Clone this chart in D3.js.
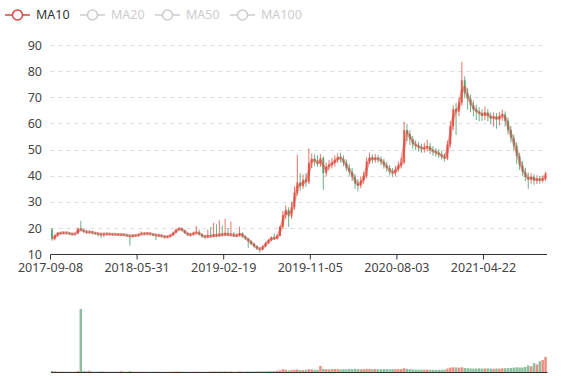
<!DOCTYPE html>
<html><head><meta charset="utf-8">
<script src="https://cdn.jsdelivr.net/npm/d3@7"></script>
<style>body{margin:0;background:#fff}svg{display:block;font-family:"Noto Sans",sans-serif}</style>
</head><body><svg id="c" width="577" height="380"></svg>
<script>
// Each candle aggregates ~6 trading sessions.
const dates = [
"2017-09-08","2017-09-15","2017-09-22","2017-09-28","2017-10-13","2017-10-23","2017-10-31","2017-11-08","2017-11-16","2017-11-24",
"2017-12-04","2017-12-12","2017-12-20","2017-12-28","2018-01-08","2018-01-16","2018-01-24","2018-02-01","2018-02-09","2018-02-23",
"2018-03-05","2018-03-13","2018-03-21","2018-03-29","2018-04-09","2018-04-17","2018-04-25","2018-05-07","2018-05-15","2018-05-23",
"2018-05-31","2018-06-08","2018-06-19","2018-06-27","2018-07-05","2018-07-13","2018-07-23","2018-07-31","2018-08-08","2018-08-16",
"2018-08-24","2018-09-03","2018-09-11","2018-09-19","2018-09-28","2018-10-15","2018-10-23","2018-10-31","2018-11-08","2018-11-16",
"2018-11-26","2018-12-04","2018-12-12","2018-12-20","2018-12-28","2019-01-09","2019-01-17","2019-01-25","2019-02-01","2019-02-13",
"2019-02-19","2019-02-27","2019-03-07","2019-03-15","2019-03-25","2019-04-02","2019-04-11","2019-04-19","2019-04-29","2019-05-10",
"2019-05-20","2019-05-28","2019-06-05","2019-06-14","2019-06-24","2019-07-02","2019-07-10","2019-07-18","2019-07-26","2019-08-05",
"2019-08-13","2019-08-21","2019-08-29","2019-09-06","2019-09-17","2019-09-25","2019-10-09","2019-10-17","2019-10-25","2019-10-31",
"2019-11-05","2019-11-13","2019-11-21","2019-11-29","2019-12-09","2019-12-17","2019-12-25","2020-01-03","2020-01-13","2020-01-21",
"2020-02-05","2020-02-13","2020-02-21","2020-03-02","2020-03-10","2020-03-18","2020-03-26","2020-04-03","2020-04-14","2020-04-22",
"2020-04-30","2020-05-12","2020-05-20","2020-05-28","2020-06-05","2020-06-15","2020-06-23","2020-07-03","2020-07-13","2020-07-21",
"2020-08-03","2020-08-11","2020-08-19","2020-08-27","2020-09-04","2020-09-14","2020-09-22","2020-09-30","2020-10-16","2020-10-26",
"2020-11-03","2020-11-11","2020-11-19","2020-11-27","2020-12-07","2020-12-15","2020-12-23","2020-12-31","2021-01-11","2021-01-19",
"2021-01-27","2021-02-04","2021-02-18","2021-02-26","2021-03-08","2021-03-16","2021-03-24","2021-04-01","2021-04-09","2021-04-19",
"2021-04-22","2021-04-30","2021-05-12","2021-05-20","2021-05-28","2021-06-07","2021-06-16","2021-06-24","2021-07-02","2021-07-12",
"2021-07-20","2021-07-28","2021-08-05","2021-08-13","2021-08-23","2021-08-31","2021-09-08","2021-09-16","2021-09-27","2021-10-12",
"2021-10-20","2021-10-28"];

const openValues = [
19.5,16.0,17.2,18.2,18.0,18.3,18.1,17.9,17.6,17.9,
19.8,19.2,18.7,18.4,18.6,18.2,18.0,17.8,17.6,17.9,
17.7,17.8,17.6,17.7,17.5,17.6,17.4,17.2,16.8,17.3,
17.1,17.6,18.0,17.8,18.1,17.7,17.5,17.2,17.3,16.9,
16.6,16.8,17.3,18.3,19.4,19.9,19.2,18.1,17.4,17.6,
18.1,18.4,17.6,16.9,16.6,17.2,16.8,17.5,17.0,17.8,
17.3,18.0,17.4,17.6,17.0,17.2,18.0,16.8,16.0,15.0,
14.0,13.0,12.2,11.8,13.0,14.3,15.4,16.4,15.9,17.0,
20.5,25.0,27.0,24.5,28.0,33.5,37.5,36.0,38.5,37.6,
45.0,46.5,45.5,44.6,46.8,41.0,43.5,44.2,45.0,46.0,
47.2,46.5,45.0,43.0,41.5,39.5,37.0,36.3,38.2,40.0,
45.5,47.0,46.2,46.8,46.3,45.5,44.0,43.0,41.5,41.0,
42.5,44.0,45.0,57.5,56.0,54.0,52.0,51.5,51.0,50.3,
50.8,51.2,49.8,49.3,48.8,48.2,47.4,46.6,52.0,59.0,
65.5,64.5,68.0,76.5,71.5,69.5,67.0,65.3,64.5,63.8,
63.0,64.2,62.8,62.0,62.6,61.5,62.8,63.5,61.0,57.5,
54.5,51.5,47.5,44.0,41.5,39.5,38.6,39.5,38.2,38.8,
38.3,38.9];

const closeValues = [
16.0,17.2,18.2,18.0,18.3,18.1,17.9,17.6,17.9,19.8,
19.2,18.7,18.4,18.6,18.2,18.0,17.8,17.6,17.9,17.7,
17.8,17.6,17.7,17.5,17.6,17.4,17.2,16.8,17.3,17.1,
17.6,18.0,17.8,18.1,17.7,17.5,17.2,17.3,16.9,16.6,
16.8,17.3,18.3,19.4,19.9,19.2,18.1,17.4,17.6,18.1,
18.4,17.6,16.9,16.6,17.2,16.8,17.5,17.0,17.8,17.3,
18.0,17.4,17.6,17.0,17.2,18.0,16.8,16.0,15.0,14.0,
13.0,12.2,11.8,13.0,14.3,15.4,16.4,15.9,17.0,20.5,
25.0,27.0,24.5,28.0,33.5,37.5,36.0,38.5,37.6,45.0,
46.5,45.5,44.6,46.8,41.0,43.5,44.2,45.0,46.0,47.2,
46.5,45.0,43.0,41.5,39.5,37.0,36.3,38.2,40.0,45.5,
47.0,46.2,46.8,46.3,45.5,44.0,43.0,41.5,41.0,42.5,
44.0,45.0,57.5,56.0,54.0,52.0,51.5,51.0,50.3,50.8,
51.2,49.8,49.3,48.8,48.2,47.4,46.6,52.0,59.0,65.5,
64.5,68.0,76.5,71.5,69.5,67.0,65.3,64.5,63.8,63.0,
64.2,62.8,62.0,62.6,61.5,62.8,63.5,61.0,57.5,54.5,
51.5,47.5,44.0,41.5,39.5,38.6,39.5,38.2,38.8,38.3,
38.9,41.0];

const highValues = [
20.0,17.6,18.5,18.6,18.7,18.6,18.4,18.1,18.2,20.2,
22.8,19.6,19.2,19.0,18.9,18.5,18.3,18.1,18.2,18.3,
18.1,18.0,18.0,17.9,17.9,17.8,17.6,17.4,17.6,17.5,
17.9,18.7,18.4,18.5,18.3,18.0,17.8,17.7,17.5,17.2,
17.1,17.6,18.6,19.8,20.3,20.1,19.4,18.3,18.0,18.6,
20.8,19.5,17.9,17.4,19.5,20.5,22.0,21.5,23.0,21.0,
23.5,20.0,22.5,18.5,18.0,20.6,18.4,17.2,16.3,15.4,
14.4,13.4,12.6,13.4,14.8,15.9,16.9,18.0,17.5,21.0,
26.5,28.6,28.0,30.0,36.0,48.0,41.0,40.5,41.0,50.5,
48.5,48.2,47.8,48.3,47.5,45.0,46.0,46.8,47.8,48.6,
48.8,47.8,46.3,44.5,43.0,40.8,38.8,39.8,41.5,47.0,
48.8,48.2,48.3,48.0,47.5,46.6,45.3,44.2,43.0,43.8,
45.5,46.8,60.7,59.8,57.5,55.3,53.6,53.0,52.3,52.5,
53.8,52.5,51.4,50.6,50.2,49.6,48.5,53.5,61.0,67.0,
67.8,69.8,83.6,78.0,73.5,71.0,68.8,67.2,66.2,65.4,
66.5,65.6,64.3,64.2,64.0,64.4,65.3,64.6,62.3,59.0,
55.8,52.8,48.8,45.6,43.0,41.2,41.0,40.6,40.2,40.0,
40.2,41.6];

const lowValues = [
15.2,15.3,16.8,17.6,17.8,17.8,17.5,17.2,17.3,17.8,
18.9,18.3,17.9,18.0,17.6,17.5,16.8,16.2,16.5,17.2,
17.3,17.2,17.3,17.1,17.2,17.0,16.8,13.3,16.5,16.8,
16.9,17.4,17.3,17.6,17.3,17.0,15.5,16.6,16.4,16.0,
16.2,16.5,17.1,18.1,19.1,18.8,17.8,17.1,16.8,17.3,
17.8,17.2,16.4,16.0,16.2,16.3,16.4,16.5,16.6,16.8,
16.9,16.8,16.9,16.5,16.6,16.8,16.3,15.5,12.4,13.6,
12.6,11.7,10.6,11.5,12.8,14.0,15.0,15.5,15.6,16.8,
19.8,23.6,20.5,23.5,27.0,32.5,34.2,35.0,35.8,36.8,
43.0,43.8,43.5,43.4,34.6,39.8,42.0,42.8,43.6,44.8,
45.0,43.6,41.8,40.0,38.0,35.0,34.0,35.2,37.0,39.0,
44.5,44.8,45.0,45.0,44.0,42.7,41.5,40.2,39.5,40.0,
41.5,42.8,44.5,53.2,51.8,50.3,49.8,49.3,48.8,48.9,
49.3,48.3,47.7,47.3,46.8,46.2,45.5,46.0,50.8,57.6,
55.6,62.8,66.8,69.6,65.3,64.2,62.8,61.3,60.8,61.0,
61.2,60.8,59.6,58.8,58.0,59.2,61.0,58.8,55.8,52.8,
49.5,44.5,42.3,40.0,38.0,35.0,37.0,36.6,36.9,37.0,
37.4,38.0];

const volumeValues = [
1.5,1.2,0.8,0.6,0.6,0.5,0.5,0.5,0.6,1.5,
100,1.5,1.0,2.0,0.8,0.6,0.8,1.0,0.8,0.6,
0.6,0.5,0.5,0.6,1.2,0.6,0.6,1.5,0.8,0.6,
0.5,0.6,0.5,0.5,0.4,0.5,0.6,0.5,0.4,0.4,
0.4,0.5,0.6,0.8,0.8,0.6,0.5,0.4,0.4,0.5,
0.6,0.5,0.4,0.4,0.6,0.8,1.0,0.8,1.0,0.8,
1.0,0.8,1.0,0.6,0.6,1.2,0.8,0.7,1.0,0.8,
0.8,0.9,1.2,1.0,1.0,1.2,1.2,1.5,2.0,2.5,
4.5,3.5,2.5,3.0,3.5,4.0,3.0,3.0,3.5,4.5,
4.0,3.5,3.5,9.5,5.0,4.5,4.0,4.5,4.8,4.5,
4.0,4.5,4.2,4.8,4.5,5.0,4.6,4.2,4.5,5.0,
4.8,4.5,4.6,4.2,4.4,4.8,4.5,4.3,4.6,4.4,
4.6,4.8,6.0,5.0,4.5,4.0,3.8,3.6,3.8,3.5,
3.8,3.6,3.5,3.4,3.5,3.6,3.8,5.5,7.0,7.5,
7.2,6.8,7.5,6.5,6.0,5.8,5.5,5.6,5.8,5.4,
5.6,5.8,5.5,5.2,5.6,5.4,5.8,6.0,6.2,6.5,
6.8,7.5,7.0,7.2,8.0,10.5,9.0,14.0,12.0,17.0,
19.0,24.0];

const yTickValues = [10,20,30,40,50,60,70,80,90];
const xTickLabels = ["2017-09-08","2018-05-31","2019-02-19","2019-11-05","2020-08-03","2021-04-22"];
const legendNames = ["MA10","MA20","MA50","MA100"];
const activeSeries = ["MA10"];
const MA_CANDLES = 2; // 10 sessions ≈ 2 aggregated candles

const UP = "#e4513f", DOWN = "#4a9e6c", MA_COLOR = "#d9453c";
const LABEL = "#444", AXIS = "#333";

const svg = d3.select("#c");
const x = d3.scaleBand().domain(dates).range([50.5, 547]).padding(0);
const bw = x.bandwidth();
const cx = d => x(d) + bw / 2;
const y = d3.scaleLinear().domain([10, 90]).range([254.3, 45]);
const vy = d3.scaleLinear().domain([0, d3.max(volumeValues)]).range([372, 309]);

const rows = dates.map((d, i) => ({
  d, o: openValues[i], c: closeValues[i], h: highValues[i], l: lowValues[i], v: volumeValues[i]
}));

// grid
svg.append("g").selectAll("line").data(yTickValues.filter(v => v !== 10)).join("line")
  .attr("x1", 50.5).attr("x2", 547).attr("y1", v => Math.round(y(v)) + 0.5).attr("y2", v => Math.round(y(v)) + 0.5)
  .attr("stroke", "#dcdcdc").attr("stroke-dasharray", "4,4");

// y axis labels
const ya = svg.append("g").attr("transform", "translate(50,0)")
  .call(d3.axisLeft(y).tickValues(yTickValues).tickSize(0).tickPadding(8));
ya.select(".domain").remove();
ya.selectAll("text").attr("fill", LABEL).attr("font-size", 12.5).attr("font-family", '"Noto Sans",sans-serif');

// candles
const cg = svg.append("g");
cg.selectAll("line").data(rows).join("line")
  .attr("x1", r => cx(r.d)).attr("x2", r => cx(r.d))
  .attr("y1", r => y(r.h)).attr("y2", r => y(r.l))
  .attr("stroke", r => r.c >= r.o ? UP : DOWN).attr("stroke-width", 1).attr("opacity", 0.8);
cg.selectAll("rect").data(rows).join("rect")
  .attr("x", r => cx(r.d) - 1).attr("width", 2)
  .attr("y", r => y(Math.max(r.o, r.c)))
  .attr("height", r => Math.max(1, Math.abs(y(r.o) - y(r.c))))
  .attr("fill", r => r.c >= r.o ? UP : DOWN).attr("opacity", 0.8);

// MA10 line
const ma = rows.map((r, i) => {
  const s = closeValues.slice(Math.max(0, i - MA_CANDLES + 1), i + 1);
  return { d: r.d, m: d3.mean(s) };
});
svg.append("path").datum(ma)
  .attr("d", d3.line().x(p => cx(p.d)).y(p => y(p.m)))
  .attr("fill", "none").attr("stroke", MA_COLOR).attr("stroke-width", 3).attr("stroke-opacity", 0.5)
  .attr("stroke-linejoin", "round");

// x axis
svg.append("line").attr("x1", 50.5).attr("x2", 547).attr("y1", 254.5).attr("y2", 254.5).attr("stroke", AXIS);
const xa = svg.append("g").attr("transform", `translate(${-bw / 2},254.5)`)
  .call(d3.axisBottom(x).tickValues(xTickLabels).tickSize(5).tickPadding(4));
xa.select(".domain").remove();
xa.selectAll("line").attr("stroke", AXIS);
xa.selectAll("text").attr("fill", LABEL).attr("font-size", 12.5).attr("font-family", '"Noto Sans",sans-serif');

// volume
svg.append("g").selectAll("rect").data(rows).join("rect")
  .attr("x", r => x(r.d) + 0.2).attr("width", bw - 0.4)
  .attr("y", r => vy(r.v)).attr("height", r => 372 - vy(r.v))
  .attr("fill", r => r.c >= r.o ? UP : DOWN).attr("opacity", 0.65);
const va = svg.append("g").attr("transform", "translate(0,372)")
  .call(d3.axisBottom(x).tickValues([]).tickSizeOuter(0));
va.select(".domain").attr("stroke", AXIS);

// legend
const lg = svg.append("g").selectAll("g").data(legendNames).join("g")
  .attr("transform", (n, i) => `translate(${5 + i * 75},15)`);
lg.append("line").attr("x1", 0).attr("x2", 25).attr("y1", 0).attr("y2", 0)
  .attr("stroke", n => activeSeries.includes(n) ? MA_COLOR : "#ccc").attr("stroke-width", 1.5);
lg.append("circle").attr("cx", 12.5).attr("cy", 0).attr("r", 5).attr("fill", "#fff")
  .attr("stroke", n => activeSeries.includes(n) ? MA_COLOR : "#ccc").attr("stroke-width", 1.5);
lg.append("text").attr("x", 31).attr("y", 0).attr("dy", "0.35em").text(n => n)
  .attr("font-size", 12.5).attr("fill", n => activeSeries.includes(n) ? "#333" : "#ccc");
</script></body></html>
